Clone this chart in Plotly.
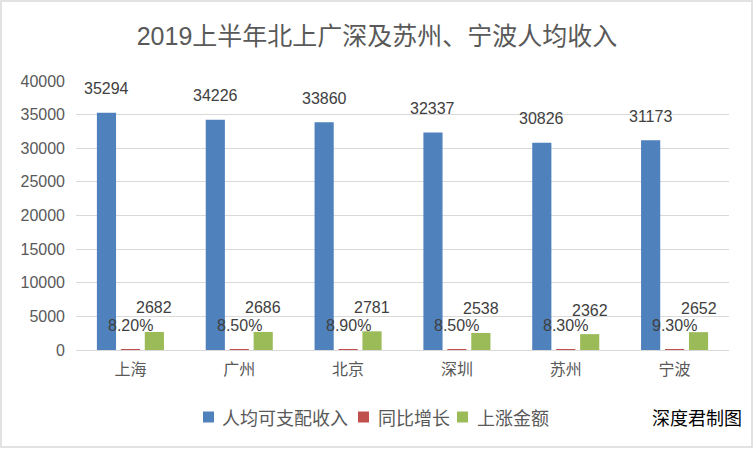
import plotly.graph_objects as go

categories = ["上海", "广州", "北京", "深圳", "苏州", "宁波"]
income = [35294, 34226, 33860, 32337, 30826, 31173]
growth = [8.20, 8.50, 8.90, 8.50, 8.30, 9.30]
increase = [2682, 2686, 2781, 2538, 2362, 2652]
growth_labels = ["8.20%", "8.50%", "8.90%", "8.50%", "8.30%", "9.30%"]

series_names = ["人均可支配收入", "同比增长", "上涨金额"]
colors = ["#4f81bd", "#c0504d", "#9bbb59"]

FONT = "Liberation Sans, Noto Sans CJK SC, sans-serif"
CJK = "Noto Sans CJK SC, sans-serif"

W, H = 754, 449
ML, MR, MT, MB = 76, 25, 81, 99
PW, PH = W - ML - MR, H - MT - MB


def px_x(x):
    return (x - ML) / PW


def px_y(y):
    return (MT + PH - y) / PH


fig = go.Figure()
for name, vals, col in zip(series_names, [income, growth, increase], colors):
    fig.add_trace(go.Bar(x=categories, y=vals, name=name, marker_color=col,
                         marker_line_width=0, hoverinfo="skip", showlegend=False))

annotations = []
label_sets = [
    (income, [str(v) for v in income], -24),
    (growth, growth_labels, 0),
    (increase, [str(v) for v in increase], 24),
]
for vals, texts, xs in label_sets:
    for c, v, t in zip(categories, vals, texts):
        annotations.append(dict(x=c, y=v, text=t, showarrow=False, xref="x", yref="y",
                                xshift=xs, yshift=24, yanchor="middle",
                                font=dict(family=FONT, size=16, color="#404040")))

# manual legend
shapes = []
legend_sq_x = [203, 358, 457]
legend_txt_x = [220, 376, 475]
LEG_Y = 417
for name, col, sx, tx in zip(series_names, colors, legend_sq_x, legend_txt_x):
    shapes.append(dict(type="rect", xref="paper", yref="paper",
                       x0=px_x(sx), x1=px_x(sx + 11),
                       y0=px_y(LEG_Y + 5.5), y1=px_y(LEG_Y - 5.5),
                       line=dict(width=0), fillcolor=col))
    annotations.append(dict(text=name, xref="paper", yref="paper", x=px_x(tx),
                            y=px_y(LEG_Y), xanchor="left", yanchor="middle",
                            showarrow=False,
                            font=dict(family=CJK, size=18, color="#595959")))

annotations.append(dict(text="深度君制图", xref="paper", yref="paper",
                        x=px_x(650), y=px_y(LEG_Y), xanchor="left",
                        yanchor="middle", showarrow=False,
                        font=dict(family=CJK, size=18, color="#000000")))

shapes.append(dict(type="rect", xref="paper", yref="paper",
                   x0=px_x(1), x1=px_x(W - 2),
                   y0=px_y(H - 2), y1=px_y(1),
                   line=dict(color="#d9d9d9", width=1.5), fillcolor="rgba(0,0,0,0)",
                   layer="below"))

fig.update_layout(
    width=W, height=H,
    margin=dict(l=ML, r=MR, t=MT, b=MB, autoexpand=False),
    paper_bgcolor="white", plot_bgcolor="white",
    title=dict(text="2019上半年北上广深及苏州、宁波人均收入", x=0.5, xref="container",
               xanchor="center", y=1 - 36 / H, yanchor="middle",
               font=dict(family=FONT, size=25, color="#595959")),
    barmode="group", bargap=0.34, bargroupgap=0.2,
    showlegend=False,
    annotations=annotations,
    shapes=shapes,
)
fig.update_yaxes(range=[0, 40000], dtick=5000, showgrid=True, gridcolor="#d9d9d9",
                 gridwidth=1, zeroline=True, zerolinecolor="#d9d9d9", zerolinewidth=1,
                 showline=False, ticks="", tickformat="d", automargin=False,
                 ticklabelstandoff=10,
                 tickfont=dict(family=FONT, size=16, color="#595959"))
fig.update_xaxes(showgrid=False, showline=False, ticks="", automargin=False,
                 ticklabelstandoff=8,
                 tickfont=dict(family=CJK, size=16, color="#595959"))

fig.write_html("out.html", config={"displayModeBar": False},
               post_script="document.body.style.margin='0';document.body.style.padding='0';")
